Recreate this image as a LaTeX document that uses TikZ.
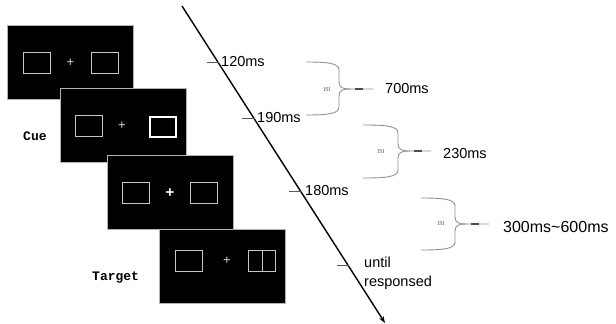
\documentclass[tikz,border=0pt]{standalone}
\usepackage{fontspec}
\setmainfont{Liberation Sans}
\newfontfamily\labfont{Liberation Mono}
\newfontfamily\isifont{Liberation Serif}
\usetikzlibrary{arrows.meta}
\begin{document}
\begin{tikzpicture}[x=1pt,y=-1pt,
  panel/.style={draw=gray!60,line width=0.6pt,fill=black,minimum width=126pt,minimum height=74pt,inner sep=0pt,anchor=north west},
  stimbox/.style={draw=gray!45,line width=0.9pt,minimum width=27pt,minimum height=21pt,inner sep=0pt,anchor=north west},
  cuebox/.style={draw=white,line width=2.4pt,minimum width=26pt,minimum height=20pt,inner sep=0pt,anchor=north west},
  fix/.style={text=gray!30,font=\fontsize{13}{13}\selectfont,inner sep=0pt},
  boldfix/.style={text=white,font=\bfseries\fontsize{15}{15}\selectfont,inner sep=0pt},
  timelab/.style={anchor=west,inner sep=0pt,font=\fontsize{14.5}{14.5}\selectfont},
  tick/.style={line width=0.6pt,draw=gray!70!black},
  bracepath/.style={draw=gray!85,line width=0.9pt},
  isi/.style={font=\isifont\fontsize{6}{6}\selectfont,text=gray!70!black,inner sep=0pt},
  sidelab/.style={font=\labfont\bfseries\fontsize{13}{13}\selectfont,inner sep=0pt,anchor=west}]
\useasboundingbox (0,0) rectangle (616,324);
\fill[white] (0,0) rectangle (616,324);
% panels
\node[panel] (p1) at (7,25) {};
\node[panel] (p2) at (60,88) {};
\node[panel] (p3) at (107,155) {};
\node[panel] (p4) at (159,229) {};
% panel 1
\node[stimbox] (b1l) at (23,52) {};
\node[fix] (f1) at (70.5,62.5) {+};
\node[stimbox] (b1r) at (91,52) {};
% panel 2
\node[stimbox] (b2l) at (75,115) {};
\node[fix] (f2) at (122,125.5) {+};
\node[cuebox] (b2r) at (149,116) {};
% panel 3
\node[stimbox] (b3l) at (122,182) {};
\node[boldfix] (f3) at (170,193) {+};
\node[stimbox] (b3r) at (190,182) {};
% panel 4
\node[stimbox] (b4l) at (175,250) {};
\node[fix] (f4) at (227,260.5) {+};
\node[stimbox] (b4r) at (248,250) {};
\draw[draw=gray!45,line width=0.9pt] (b4r.north) -- (b4r.south);
% side labels
\node[sidelab] (cue) at (23,136) {Cue};
\node[sidelab] (target) at (92,278) {Target};
% timeline
\coordinate (ts) at (182,6);
\coordinate (te) at (385,323);
\draw[line width=1.4pt,-{Stealth[length=7pt,width=5pt]}] (ts) -- (te);
% ticks & labels
\coordinate (t1a) at (207,62); \coordinate (t1b) at (219,62);
\draw[tick] (t1a) -- (t1b);
\node[timelab] (l1) at (221,62) {120ms};
\coordinate (t2a) at (242,118); \coordinate (t2b) at (255,118);
\draw[tick] (t2a) -- (t2b);
\node[timelab] (l2) at (257,118) {190ms};
\coordinate (t3a) at (289,191); \coordinate (t3b) at (302,191);
\draw[tick] (t3a) -- (t3b);
\node[timelab] (l3) at (305,191) {180ms};
\coordinate (t4a) at (337,265); \coordinate (t4b) at (349,265);
\draw[tick] (t4a) -- (t4b);
\node[anchor=north west,inner sep=0pt,align=left,font=\fontsize{14.5}{19}\selectfont] (l4) at (364,257) {until\\responsed};
% braces
\foreach \xa/\yt/\xv/\ym/\xt/\yb/\nm in {306/62/339/89/373/115/a,363/125/398/151/431/178/b,421/198/455/224/489/250/c}{
  \coordinate (\nm top) at (\xa,\yt);
  \coordinate (\nm tip) at (\xt,\ym);
  \coordinate (\nm bot) at (\xa,\yb);
  \draw[bracepath] (\nm top) .. controls (\xv-12,\yt) and (\xv,\yt+1) .. (\xv,\yt+8)
     -- (\xv,\ym-7) .. controls (\xv,\ym-1) and (\xv+4,\ym) .. (\xv+12,\ym) -- (\nm tip);
  \draw[bracepath] (\xv+12,\ym) .. controls (\xv+4,\ym) and (\xv,\ym+1) .. (\xv,\ym+7)
     -- (\xv,\yb-8) .. controls (\xv,\yb-1) and (\xv-12,\yb) .. (\nm bot);
  \draw[line width=1.2pt,draw=gray!60!black] (\xv+16,\ym) -- (\xv+24,\ym);
}
\node[isi] (i1) at (327,90) {ISI};
\node[isi] (i2) at (381,152) {ISI};
\node[isi] (i3) at (441,224) {ISI};
\node[timelab] (d1) at (385,89) {700ms};
\node[timelab] (d2) at (443,154) {230ms};
\node[timelab,font=\fontsize{16}{16}\selectfont] (d3) at (503,227) {300ms\textasciitilde600ms};
\end{tikzpicture}
\end{document}
